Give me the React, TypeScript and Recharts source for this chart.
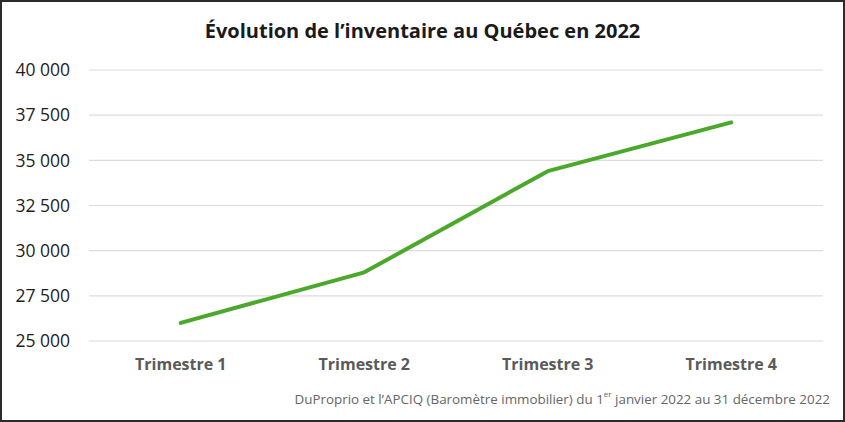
import { LineChart, Line, XAxis, YAxis, CartesianGrid } from "recharts";

const quarters = ["Trimestre 1", "Trimestre 2", "Trimestre 3", "Trimestre 4"];
const inventory = [26000, 28800, 34400, 37100];
const yTicks = [25000, 27500, 30000, 32500, 35000, 37500, 40000];

const data = quarters.map((q, i) => ({ q, inventory: inventory[i] }));

const FONT = "'Open Sans', Lato, sans-serif";

const fmtNum = (v: number) => String(v).replace(/\B(?=(\d{3})+(?!\d))/g, " ");

export default function App() {
  return (
    <div
      style={{
        position: "relative",
        width: 845,
        height: 422,
        boxSizing: "border-box",
        border: "2px solid #2b2b2b",
        background: "#fff",
        fontFamily: FONT,
        overflow: "hidden",
      }}
    >
      <style>{`body{margin:0}`}</style>
      <div
        style={{
          position: "absolute",
          top: 15,
          left: 0,
          width: "100%",
          textAlign: "center",
          fontSize: 20,
          fontWeight: 700,
          color: "#1a1a1a",
        }}
      >
        Évolution de l’inventaire au Québec en 2022
      </div>
      <div style={{ position: "absolute", left: -2, top: -2 }}>
        <LineChart width={845} height={422} data={data} margin={{ top: 70, right: 22, bottom: 51, left: 9 }}>
          <CartesianGrid vertical={false} stroke="#dcdcdc" strokeWidth={1.2} />
          <XAxis
            dataKey="q"
            scale="band"
            axisLine={false}
            tickLine={false}
            height={30}
            tickMargin={12}
            tick={{ fontSize: 16, fontWeight: 700, fill: "#5a5a5a", fontFamily: FONT }}
          />
          <YAxis
            domain={[25000, 40000]}
            ticks={yTicks}
            axisLine={false}
            tickLine={false}
            width={80}
            tickMargin={13}
            tickFormatter={fmtNum}
            tick={{ fontSize: 17.5, fill: "#1e1e1e", fontFamily: FONT }}
          />
          <Line
            type="linear"
            dataKey="inventory"
            stroke="#4aa82a"
            strokeWidth={4}
            strokeLinecap="round"
            strokeLinejoin="round"
            dot={false}
            isAnimationActive={false}
          />
        </LineChart>
      </div>
      <div
        style={{
          position: "absolute",
          right: 13,
          top: 388,
          fontSize: 13.4,
          color: "#666",
          whiteSpace: "nowrap",
        }}
      >
        DuProprio et l’APCIQ (Baromètre immobilier) du 1<sup style={{ fontSize: 8, verticalAlign: "top", lineHeight: 1 }}>er</sup> janvier 2022 au 31 décembre 2022
      </div>
    </div>
  );
}
